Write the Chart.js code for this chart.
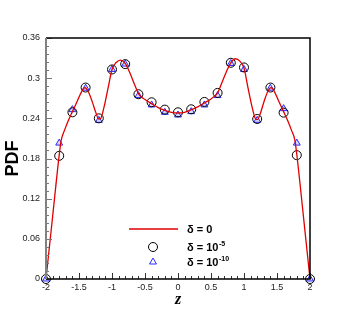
<!DOCTYPE html>
<html>
<head>
<meta charset="utf-8">
<script src="https://cdn.jsdelivr.net/npm/chart.js@4.4.1/dist/chart.umd.min.js"></script>
<style>
html,body{margin:0;padding:0;background:#fff;}
#wrap{width:353px;height:314px;position:relative;}
</style>
</head>
<body>
<div id="wrap"><canvas id="c" width="353" height="314"></canvas></div>
<script>
// ---- data ----
const zPoints = [-2,-1.8,-1.6,-1.4,-1.2,-1,-0.8,-0.6,-0.4,-0.2,0,0.2,0.4,0.6,0.8,1,1.2,1.4,1.6,1.8,2];
const pdfDelta5 = [0,0.184,0.249,0.286,0.240,0.313,0.321,0.276,0.264,0.253,0.249,0.2535,0.2645,0.278,0.323,0.316,0.239,0.286,0.2485,0.185,0];
const pdfDelta10 = [0,0.203,0.253,0.285,0.237,0.313,0.321,0.274,0.260,0.249,0.245,0.250,0.260,0.274,0.322,0.313,0.237,0.285,0.2545,0.203,0];
const curveZ = [-2,-1.9,-1.8,-1.77,-1.72,-1.66,-1.6,-1.52,-1.46,-1.41,-1.36,-1.3,-1.25,-1.2,-1.17,-1.12,-1.06,-1,-0.94,-0.87,-0.8,-0.73,-0.66,-0.6,-0.5,-0.4,-0.3,-0.2,-0.1,0,
  0.1,0.2,0.3,0.4,0.5,0.6,0.66,0.73,0.8,0.87,0.94,1,1.06,1.12,1.17,1.2,1.25,1.3,1.36,1.41,1.46,1.52,1.6,1.66,1.72,1.77,1.8,1.9,2];
const curvePDF = [0,0.093,0.185,0.207,0.222,0.237,0.250,0.267,0.280,0.286,0.280,0.265,0.250,0.239,0.240,0.257,0.285,0.313,0.323,0.327,0.322,0.308,0.291,0.277,0.268,0.262,0.256,0.252,0.249,0.248,
  0.249,0.253,0.257,0.263,0.269,0.278,0.292,0.309,0.323,0.329,0.325,0.315,0.286,0.258,0.240,0.238,0.248,0.264,0.280,0.286,0.280,0.267,0.250,0.237,0.222,0.208,0.186,0.094,0];
const xTicks = [-2,-1.5,-1,-0.5,0,0.5,1,1.5,2];
const yTicks = [0,0.06,0.12,0.18,0.24,0.3,0.36];
const legendLabels = [["δ = 0",""],["δ = 10","-5"],["δ = 10","-10"]];

const toXY = (xs, ys) => xs.map((x,i)=>({x:x,y:ys[i]}));

const framePlugin = {
  id:'frame',
  afterDatasetsDraw(chart){
    const ctx = chart.ctx, a = chart.chartArea;
    const xs = chart.scales.x, ys = chart.scales.y;
    ctx.save();
    // x ticks (inward)
    ctx.strokeStyle = '#333'; ctx.lineWidth = 1;
    for (let i=0;i<=40;i++){
      const v = -2 + i*0.1;
      const px = Math.round(xs.getPixelForValue(v))+0.5;
      const len = (i%5===0)?6:3;
      ctx.beginPath(); ctx.moveTo(px,a.bottom); ctx.lineTo(px,a.bottom-len); ctx.stroke();
    }
    // y ticks (inward)
    ctx.strokeStyle = '#777';
    for (let i=0;i<=30;i++){
      const v = i*0.012;
      const py = Math.round(ys.getPixelForValue(v))+0.5;
      const len = (i%5===0)?6:3;
      ctx.beginPath(); ctx.moveTo(a.left,py); ctx.lineTo(a.left+len,py); ctx.stroke();
    }
    // frame
    ctx.strokeStyle = '#000'; ctx.lineWidth = 1.5;
    ctx.beginPath();
    ctx.moveTo(a.left,a.top); ctx.lineTo(a.right,a.top); ctx.lineTo(a.right,a.bottom); ctx.lineTo(a.left,a.bottom);
    ctx.stroke();
    ctx.strokeStyle = '#808080'; ctx.lineWidth = 2;
    ctx.beginPath(); ctx.moveTo(a.left,a.top); ctx.lineTo(a.left,a.bottom); ctx.stroke();

    // legend
    const lx = 129, lx2 = 178, tx = 187, rows = [229,247,262];
    ctx.strokeStyle = '#e00000'; ctx.lineWidth = 1.3;
    ctx.beginPath(); ctx.moveTo(lx,rows[0]); ctx.lineTo(lx2,rows[0]); ctx.stroke();
    ctx.strokeStyle = '#000'; ctx.lineWidth = 1;
    ctx.beginPath(); ctx.arc(153,rows[1],4.5,0,Math.PI*2); ctx.stroke();
    ctx.strokeStyle = '#2a2aff';
    const r=4, cy=rows[2];
    ctx.beginPath();
    ctx.moveTo(153, cy - r);
    ctx.lineTo(153 + r*0.866, cy + r*0.5);
    ctx.lineTo(153 - r*0.866, cy + r*0.5);
    ctx.closePath(); ctx.stroke();
    ctx.fillStyle = '#000'; ctx.textBaseline = 'middle'; ctx.textAlign='left';
    legendLabels.forEach((lab,i)=>{
      ctx.font = 'bold 11px "Liberation Sans", Arial, sans-serif';
      ctx.fillText(lab[0], tx, rows[i]+1);
      if (lab[1]){
        const w = ctx.measureText(lab[0]).width;
        ctx.font = 'bold 7px "Liberation Sans", Arial, sans-serif';
        ctx.fillText(lab[1], tx + w + 0.5, rows[i]-3);
      }
    });
    ctx.restore();
  }
};

new Chart(document.getElementById('c'), {
  type:'scatter',
  data:{
    datasets:[
      {label:'δ = 0', data: toXY(curveZ,curvePDF), showLine:true, borderColor:'#e00000', borderWidth:1.3,
       pointRadius:0, cubicInterpolationMode:'monotone', fill:false},
      {label:'δ = 10^-5', data: toXY(zPoints,pdfDelta5), showLine:false, pointStyle:'circle', pointRadius:4.5,
       borderColor:'#000', borderWidth:1, backgroundColor:'rgba(0,0,0,0)', clip:false},
      {label:'δ = 10^-10', data: toXY(zPoints,pdfDelta10), showLine:false, pointStyle:'triangle', pointRadius:4,
       borderColor:'#2a2aff', borderWidth:1, backgroundColor:'rgba(60,60,255,0.2)', clip:false}
    ]
  },
  options:{
    responsive:false, animation:false,
    layout:{padding:{top:38,right:43,left:0,bottom:0}},
    plugins:{legend:{display:false}, tooltip:{enabled:false}},
    scales:{
      x:{type:'linear', min:-2, max:2,
         afterBuildTicks(s){ s.ticks = xTicks.map(v=>({value:v})); },
         afterFit(s){ s.height = 35; },
         grid:{display:false, drawTicks:false}, border:{display:false},
         ticks:{font:{size:9, family:'"Liberation Sans", Arial, sans-serif'}, color:'#222', padding:3, maxRotation:0,
                callback:(v)=>String(v)},
         title:{display:true, text:'z', font:{size:16, weight:'bold', style:'italic', family:'"Liberation Serif", "Times New Roman", serif'},
                color:'#000', padding:{top:0,bottom:5}}
      },
      y:{type:'linear', min:0, max:0.36,
         afterBuildTicks(s){ s.ticks = yTicks.map(v=>({value:v})); },
         afterFit(s){ s.width = 46; },
         grid:{display:false, drawTicks:false}, border:{display:false},
         ticks:{font:{size:9, family:'"Liberation Sans", Arial, sans-serif'}, color:'#222', padding:6,
                callback:(v)=>String(v)},
         title:{display:true, text:'PDF', font:{size:18, weight:'bold', family:'"Liberation Sans", Arial, sans-serif'},
                color:'#000', padding:{top:2,bottom:0}}
      }
    }
  },
  plugins:[framePlugin]
});
</script>
</body>
</html>
